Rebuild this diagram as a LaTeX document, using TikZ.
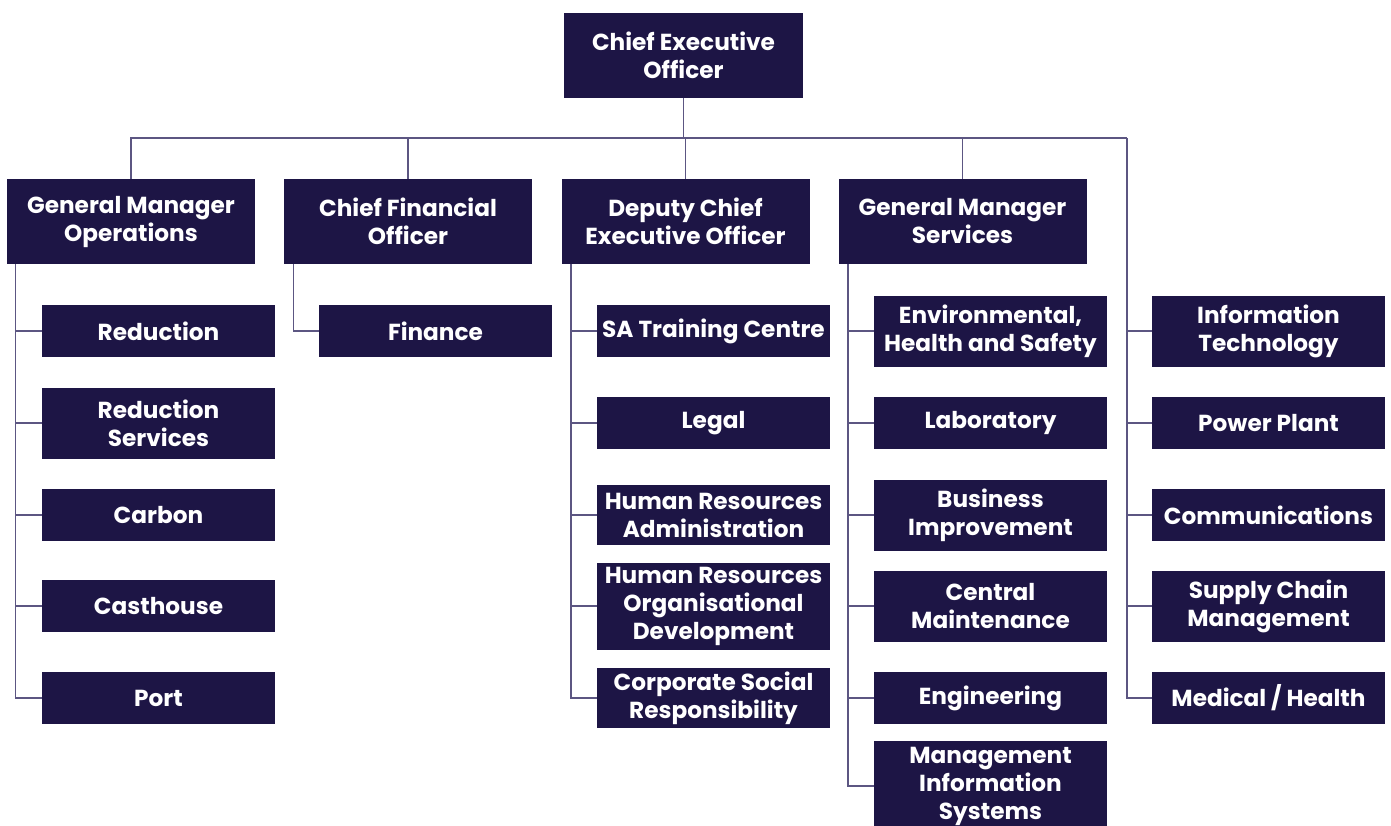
\documentclass[tikz,border=0pt]{standalone}
\usepackage{fontspec}
\setmainfont{Poppins}
\usetikzlibrary{positioning}

\definecolor{boxblue}{HTML}{1D1545}
\definecolor{linegray}{HTML}{5C5682}

\begin{document}
\begin{tikzpicture}[
        x=0.5pt, y=-0.5pt,
        head node/.style={fill=boxblue,text=white,inner sep=0pt,align=center,
            font=\bfseries\fontsize{11.6}{14}\selectfont,
            minimum width=124pt,minimum height=42.5pt},
        unit node/.style={fill=boxblue,text=white,inner sep=0pt,align=center,
            font=\bfseries\fontsize{11.6}{14}\selectfont,
            minimum width=116.5pt,minimum height=26pt},
        link/.style={draw=linegray,line width=0.75pt},
    ]
    \useasboundingbox (0,0) rectangle (1391,825);

    % top and second level
    \node[head node,minimum width=119.5pt] (ceo) at (683.5,55.5) {Chief Executive\\Officer};
    \node[head node] (gmo) at (131,221.5) {General Manager\\Operations};
    \node[head node] (cfo) at (408,221.5) {Chief Financial\\Officer};
    \node[head node] (dceo) at (685.5,221.5) {Deputy Chief\\Executive Officer};
    \node[head node] (gms) at (962.5,221.5) {General Manager\\Services};

    % operations
    \node[unit node] (red) at (158.5,331) {Reduction};
    \node[unit node,minimum height=35.5pt] (redsv) at (158.5,423) {Reduction\\Services};
    \node[unit node] (carbon) at (158.5,515) {Carbon};
    \node[unit node] (cast) at (158.5,606) {Casthouse};
    \node[unit node] (port) at (158.5,698) {Port};

    % finance
    \node[unit node] (fin) at (435.5,331) {Finance};

    % deputy
    \node[unit node] (train) at (713.5,331) {SA Training Centre};
    \node[unit node] (legal) at (713.5,423) {Legal};
    \node[unit node,minimum height=30pt] (hradm) at (713.5,515) {Human Resources\\Administration};
    \node[unit node,minimum height=43.5pt] (hrod) at (713.5,606) {Human Resources\\Organisational\\Development};
    \node[unit node,minimum height=30pt] (csr) at (713.5,698) {Corporate Social\\Responsibility};

    % services
    \node[unit node,minimum height=35.5pt] (ehs) at (990.5,331) {Environmental,\\Health and Safety};
    \node[unit node] (lab) at (990.5,423) {Laboratory};
    \node[unit node,minimum height=35.5pt] (bi) at (990.5,515) {Business\\Improvement};
    \node[unit node,minimum height=35.5pt] (cmaint) at (990.5,606) {Central\\Maintenance};
    \node[unit node] (eng) at (990.5,698) {Engineering};
    \node[unit node,minimum height=45pt] (mis) at (990.5,786) {Management\\Information\\Systems};

    % direct to ceo
    \node[unit node,minimum height=35.5pt] (it) at (1268.5,331) {Information\\Technology};
    \node[unit node] (power) at (1268.5,423) {Power Plant};
    \node[unit node] (comms) at (1268.5,515) {Communications};
    \node[unit node,minimum height=35.5pt] (supply) at (1268.5,606) {Supply Chain\\Management};
    \node[unit node] (medical) at (1268.5,698) {Medical / Health};

    % connectors
    \coordinate (bus) at (683.5,138);
    \coordinate (rtop) at (1127,138);
    \draw[link] (ceo.south) -- (ceo.south |- bus);
    \draw[link] (gmo.north) -- (gmo.north |- bus) -- (rtop);
    \foreach \n in {cfo,dceo,gms}
        \draw[link] (\n.north) -- (\n.north |- bus);

    \foreach \n in {red,redsv,carbon,cast,port}
        \draw[link] ([xshift=4.5pt]gmo.south west) |- (\n.west);
    \draw[link] ([xshift=5pt]cfo.south west) |- (fin.west);
    \foreach \n in {train,legal,hradm,hrod,csr}
        \draw[link] ([xshift=5pt]dceo.south west) |- (\n.west);
    \foreach \n in {ehs,lab,bi,cmaint,eng,mis}
        \draw[link] ([xshift=5pt]gms.south west) |- (\n.west);
    \foreach \n in {it,power,comms,supply,medical}
        \draw[link] (rtop) |- (\n.west);
\end{tikzpicture}
\end{document}
